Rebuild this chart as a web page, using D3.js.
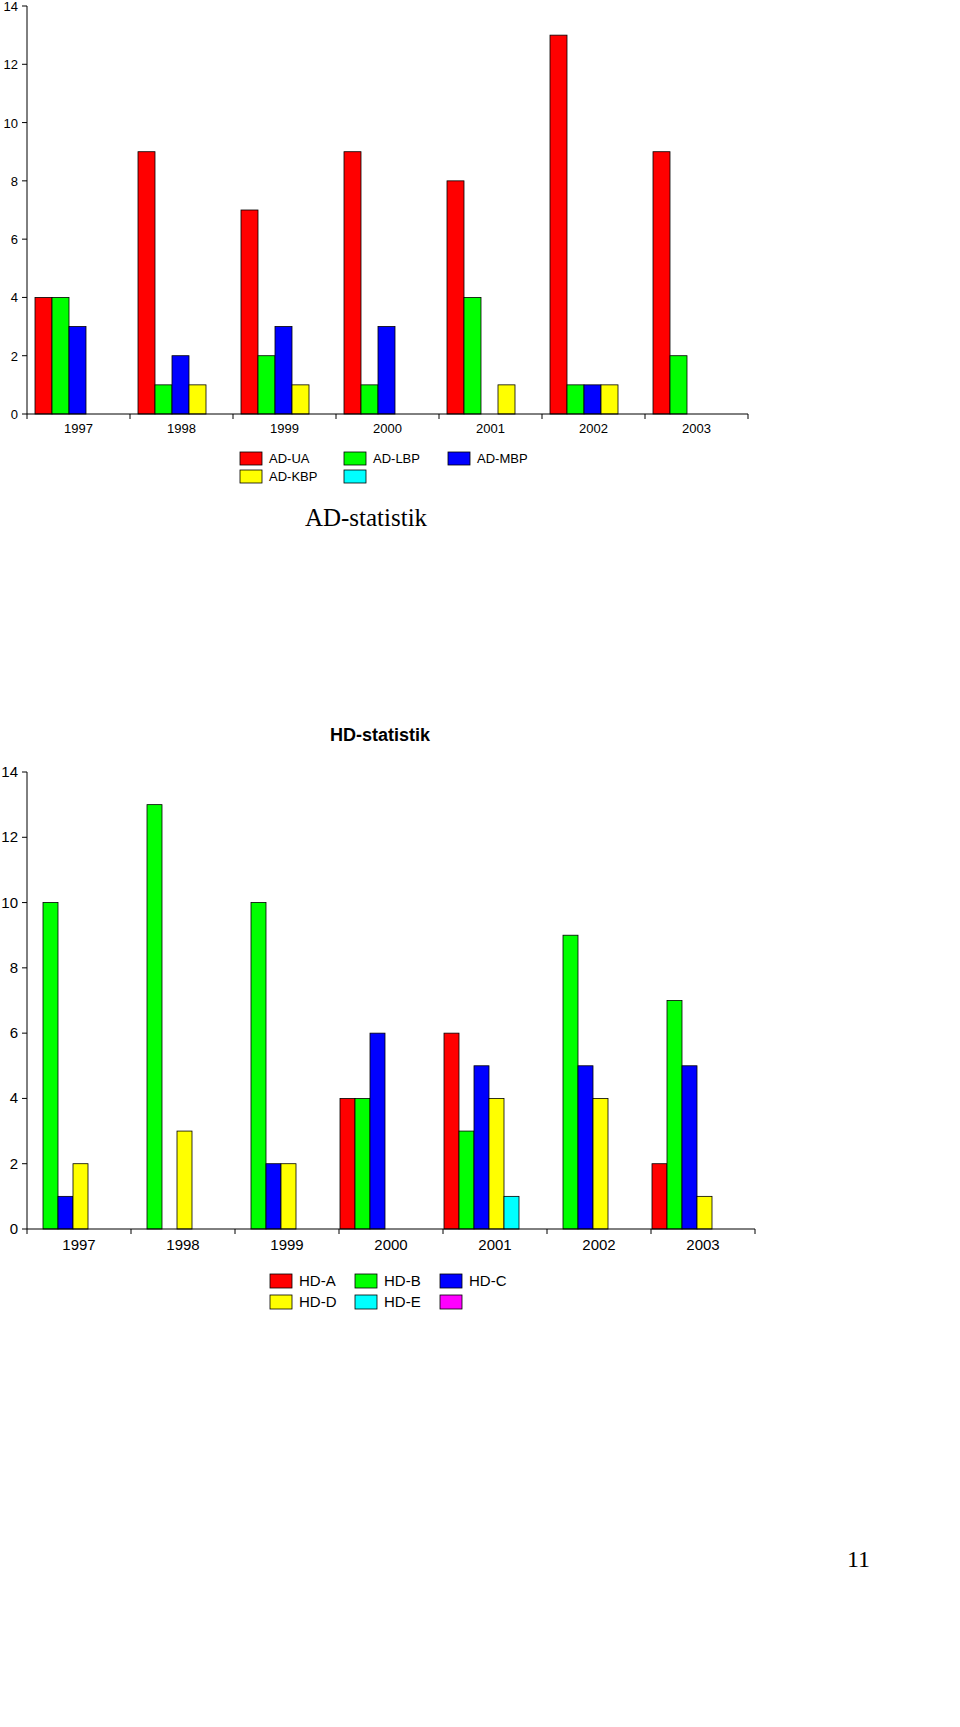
<!DOCTYPE html>
<html><head><meta charset="utf-8">
<script src="https://cdn.jsdelivr.net/npm/d3@7"></script>
<style>body{margin:0;background:#fff}svg{display:block}</style>
</head><body>
<svg id="c" width="960" height="1727"></svg>
<script>
// shared data
var years = ['1997', '1998', '1999', '2000', '2001', '2002', '2003'];
var yTicks = [0, 2, 4, 6, 8, 10, 12, 14];

// AD series
var adNames = ['AD-UA', 'AD-LBP', 'AD-MBP', 'AD-KBP', ''];
var adColors = ['#ff0000', '#00ff00', '#0000ff', '#ffff00', '#00ffff'];
var adUA = [4, 9, 7, 9, 8, 13, 9];
var adLBP = [4, 1, 2, 1, 4, 1, 2];
var adMBP = [3, 2, 3, 3, 0, 1, 0];
var adKBP = [0, 1, 1, 0, 1, 1, 0];
var adE = [0, 0, 0, 0, 0, 0, 0];

// HD series
var hdNames = ['HD-A', 'HD-B', 'HD-C', 'HD-D', 'HD-E', ''];
var hdColors = ['#ff0000', '#00ff00', '#0000ff', '#ffff00', '#00ffff', '#ff00ff'];
var hdA = [0, 0, 0, 4, 6, 0, 2];
var hdB = [10, 13, 10, 4, 3, 9, 7];
var hdC = [1, 0, 2, 6, 5, 5, 5];
var hdD = [2, 3, 2, 0, 4, 4, 1];
var hdE = [0, 0, 0, 0, 1, 0, 0];
var hdF = [0, 0, 0, 0, 0, 0, 0];

var svg = d3.select('#c');
var font = 'Liberation Sans, Arial, sans-serif';

function chart(o) {
  var x = d3.scaleBand().domain(years).range([o.x0, o.x1]);
  var y = d3.scaleLinear().domain([0, 14]).range([o.y0, o.y1]);
  var g = svg.append('g');

  // y axis
  g.append('line').attr('x1', o.x0).attr('x2', o.x0).attr('y1', y(0)).attr('y2', y(14)).attr('stroke', '#000');
  g.selectAll('.yt').data(yTicks).enter().append('line')
    .attr('x1', o.x0 - 5).attr('x2', o.x0).attr('y1', y).attr('y2', y).attr('stroke', '#000');
  g.selectAll('.yl').data(yTicks).enter().append('text')
    .attr('x', o.x0 - 9).attr('y', function(d) { return y(d) + 5; })
    .attr('text-anchor', 'end').attr('font-family', font).attr('font-size', o.fs).text(function(d) { return d; });

  // bars (keep the year with each value so zero bars can be dropped)
  o.series.forEach(function(s, i) {
    var pts = s.map(function(v, j) { return {year: years[j], v: v}; })
      .filter(function(d) { return d.v > 0; });
    g.selectAll(null).data(pts).enter().append('rect')
      .attr('x', function(d) { return x(d.year) + o.off + i * o.bw; })
      .attr('y', function(d) { return y(d.v); })
      .attr('width', o.bw).attr('height', function(d) { return y(0) - y(d.v); })
      .attr('fill', o.colors[i]).attr('stroke', '#000').attr('stroke-width', 0.8);
  });

  // x axis
  g.append('line').attr('x1', o.x0).attr('x2', o.x1).attr('y1', y(0)).attr('y2', y(0)).attr('stroke', '#000');
  g.selectAll('.xt').data(d3.range(8)).enter().append('line')
    .attr('x1', function(d) { return o.x0 + d * x.bandwidth(); })
    .attr('x2', function(d) { return o.x0 + d * x.bandwidth(); })
    .attr('y1', y(0)).attr('y2', y(0) + 5).attr('stroke', '#000');
  g.selectAll('.xl').data(years).enter().append('text')
    .attr('x', function(d) { return x(d) + x.bandwidth() / 2; })
    .attr('y', y(0) + o.fs + 6).attr('text-anchor', 'middle')
    .attr('font-family', font).attr('font-size', o.fs).text(function(d) { return d; });

  // legend
  o.names.forEach(function(n, i) {
    var cx = o.lx + (i % 3) * o.lcol, cy = o.ly + Math.floor(i / 3) * o.lrow;
    g.append('rect').attr('x', cx).attr('y', cy).attr('width', 22).attr('height', o.lh)
      .attr('fill', o.colors[i]).attr('stroke', '#000').attr('stroke-width', 0.8);
    g.append('text').attr('x', cx + 29).attr('y', cy + o.lh - 2)
      .attr('font-family', font).attr('font-size', o.fs).text(n);
  });
}

chart({x0: 27, x1: 748, y0: 414, y1: 6, bw: 17, off: 8, fs: 13,
  series: [adUA, adLBP, adMBP, adKBP, adE], colors: adColors, names: adNames,
  lx: 240, ly: 452, lcol: 104, lrow: 18, lh: 13});

svg.append('text').attr('x', 366).attr('y', 526).attr('text-anchor', 'middle')
  .attr('font-family', 'Liberation Serif, Times New Roman, serif').attr('font-size', 25).text('AD-statistik');

svg.append('text').attr('x', 380).attr('y', 741).attr('text-anchor', 'middle')
  .attr('font-family', font).attr('font-weight', 'bold').attr('font-size', 18).text('HD-statistik');

chart({x0: 27, x1: 755, y0: 1229, y1: 772, bw: 15, off: 1, fs: 15,
  series: [hdA, hdB, hdC, hdD, hdE, hdF], colors: hdColors, names: hdNames,
  lx: 270, ly: 1274, lcol: 85, lrow: 21, lh: 14});

svg.append('text').attr('x', 870).attr('y', 1567).attr('text-anchor', 'end')
  .attr('font-family', 'Liberation Serif, Times New Roman, serif').attr('font-size', 24).text('11');
</script>
</body></html>
